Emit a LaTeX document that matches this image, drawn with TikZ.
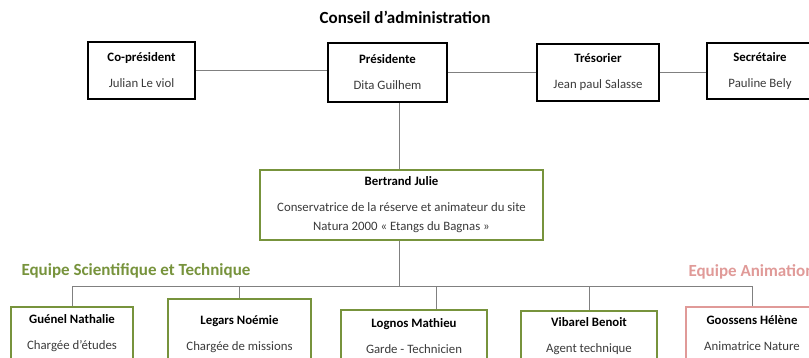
\documentclass[tikz,border=0pt]{standalone}
\usepackage{fontspec}
\setmainfont{Carlito}
\definecolor{teamgreen}{HTML}{77933C}
\definecolor{teampink}{HTML}{E09A98}
\definecolor{rolegrey}{HTML}{3A3A3A}
\begin{document}
\begin{tikzpicture}[x=1pt,y=-1pt,
  member/.style={draw,rectangle,align=center,inner sep=2pt,
    font=\fontsize{12.8}{19}\selectfont},
  board/.style={member,line width=2.2pt},
  staff/.style={member,draw=teamgreen,line width=2pt,
    minimum height=53pt,anchor=north},
  animstaff/.style={staff,draw=teampink},
  teamlabel/.style={anchor=west,font=\bfseries\fontsize{17}{19}\selectfont},
  link/.style={draw=black!50,line width=0.8pt}]
  \useasboundingbox (0,0) rectangle (809,358);
  \clip (0,0) rectangle (809,358);

  \node[font=\bfseries\fontsize{17}{19}\selectfont] (conseil) at (405,17) {Conseil d’administration};

  \node[board,minimum width=107pt,minimum height=57pt] (copres) at (141.5,70.5)
    {\textbf{Co-président}\\[7pt]\textcolor{rolegrey}{Julian Le viol}};
  \node[board,minimum width=119pt,minimum height=59pt] (pres) at (387.5,72.5)
    {\textbf{Présidente}\\[7pt]\textcolor{rolegrey}{Dita Guilhem}};
  \node[board,minimum width=122pt,minimum height=57pt] (tres) at (598,72.5)
    {\textbf{Trésorier}\\[7pt]\textcolor{rolegrey}{Jean paul Salasse}};
  \node[board,minimum width=106pt,minimum height=56pt] (secr) at (760,71)
    {\textbf{Secrétaire}\\[7pt]\textcolor{rolegrey}{Pauline Bely}};

  \node[member,draw=teamgreen,line width=2pt,minimum width=283pt,minimum height=70pt] (bertrand) at (401.5,205)
    {\textbf{Bertrand Julie}\\[7pt]\textcolor{rolegrey}{Conservatrice de la réserve et animateur du site}\\
     \textcolor{rolegrey}{Natura 2000 « Etangs du Bagnas »}};

  \node[teamlabel,text=teamgreen] (scitech) at (18,271) {Equipe Scientifique et Technique};
  \node[teamlabel,text=teampink] (anim) at (685,272) {Equipe Animation};

  \node[staff,minimum width=122pt] (guenel) at (72,306)
    {\textbf{Guénel Nathalie}\\[7pt]\textcolor{rolegrey}{Chargée d’études}};
  \node[staff,minimum width=143pt,minimum height=71pt] (legars) at (239.5,298)
    {\textbf{Legars Noémie}\\[7pt]\textcolor{rolegrey}{Chargée de missions}};
  \node[staff,minimum width=146pt] (lognos) at (414,309)
    {\textbf{Lognos Mathieu}\\[7pt]\textcolor{rolegrey}{Garde - Technicien}};
  \node[staff,minimum width=136pt,minimum height=51pt] (vibarel) at (589,310)
    {\textbf{Vibarel Benoit}\\[7pt]\textcolor{rolegrey}{Agent technique}};
  \node[animstaff,minimum width=132pt,minimum height=52pt] (goossens) at (752,306)
    {\textbf{Goossens Hélène}\\[7pt]\textcolor{rolegrey}{Animatrice Nature}};

  \coordinate (bus) at (399,286);

  \draw[link] (copres.east) -- (copres.east -| pres.west);
  \draw[link] (pres.east) -- (pres.east -| tres.west);
  \draw[link] (tres.east) -- (tres.east -| secr.west);
  \draw[link] (pres.south -| bus) -- (bertrand.north -| bus);
  \draw[link] (bertrand.south -| bus) -- (bus);
  \draw[link] (bus) -| (guenel.north);
  \draw[link] (bus) -| (legars.north);
  \draw[link] (bus) -| ([xshift=22pt]lognos.north);
  \draw[link] (bus) -| (vibarel.north);
  \draw[link] (bus) -| (goossens.north);
\end{tikzpicture}
\end{document}
